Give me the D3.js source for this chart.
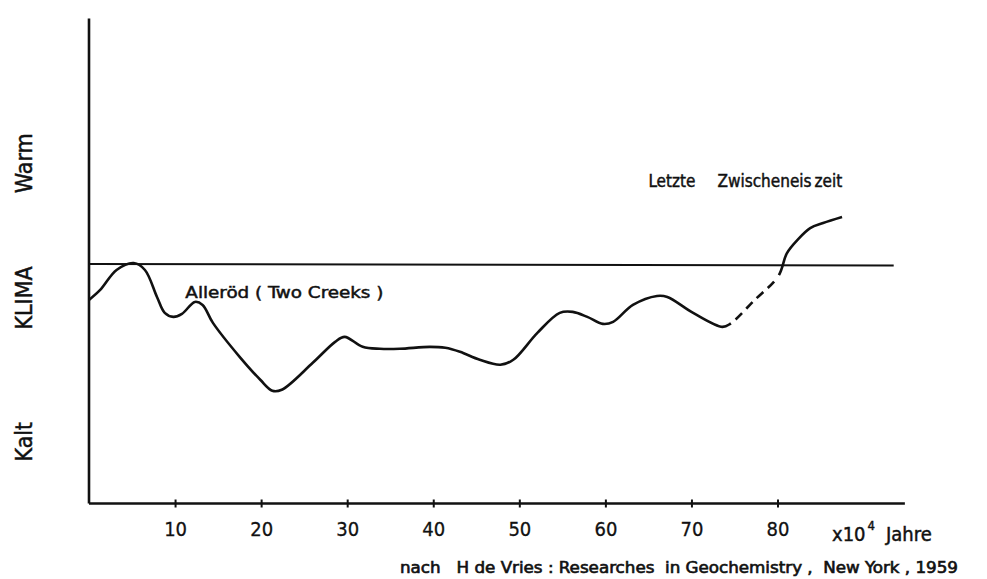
<!DOCTYPE html>
<html>
<head>
<meta charset="utf-8">
<script src="https://cdn.jsdelivr.net/npm/d3@7"></script>
<style>
  body { margin: 0; background: #fff; }
  svg text { font-family: "DejaVu Sans Condensed", "DejaVu Sans", sans-serif; fill: #111; stroke: #111; stroke-width: 0.45; white-space: pre; }
</style>
</head>
<body>
<div id="chart"></div>
<script>
// curve: x in 10^4 Jahre, y = klima relative to the reference line
const curve = [
  [0, -3.6], [1.3, -2.6], [3.2, -0.6], [5.2, 0.1], [6.5, -0.6], [7.9, -3.3],
  [8.8, -4.9], [9.8, -5.3], [10.8, -5.0], [12.3, -3.8], [13.2, -4.1], [14.4, -5.9],
  [17.5, -9.3], [19.9, -11.6], [21.3, -12.7], [22.4, -12.6], [26.0, -9.9],
  [28.6, -7.8], [29.7, -7.3], [31.8, -8.3], [33.8, -8.5], [36.1, -8.5],
  [39.6, -8.3], [41.4, -8.4], [43.1, -8.8], [45.4, -9.6], [47.8, -10.1],
  [49.3, -9.6], [52.1, -6.9], [54.7, -4.9], [56.2, -4.8], [57.9, -5.3],
  [59.7, -6.0], [60.9, -5.8], [63.2, -4.1], [66.0, -3.2], [67.2, -3.3],
  [70.2, -4.9], [73.6, -6.3], [74.5, -6.0], [77.3, -3.65], [80.1, -1.2],
  [81.1, 1.1], [82.3, 2.4], [83.8, 3.6], [85.3, 4.1], [87.5, 4.7]
];
// stretch of the curve that is drawn dashed (uncertain)
const dashedRange = [74.5, 80.1];
const xTicks = [10, 20, 30, 40, 50, 60, 70, 80];
const yLabels = ["Warm", "KLIMA", "Kalt"];
const yLabelValues = [10.1, -3.4, -17.8];

const width = 987, height = 579;
const axisEndX = 94.8, refEndX = 93.5, axisTopY = 24.6;

const svg = d3.select("#chart").append("svg")
  .attr("width", width).attr("height", height);

const x = d3.scaleLinear().domain([0, 80]).range([89, 777.5]);
const y = d3.scaleLinear().domain([-24, 0]).range([503.5, 264]);

// axes
svg.append("line")
  .attr("x1", x(0)).attr("x2", x(0))
  .attr("y1", y(axisTopY)).attr("y2", y(-24))
  .attr("stroke", "#111").attr("stroke-width", 2.6);

const xAxis = svg.append("g")
  .attr("transform", `translate(0,${y(-24)})`)
  .call(d3.axisBottom(x).tickValues(xTicks).tickSize(4).tickPadding(14));
xAxis.select(".domain").remove();
xAxis.selectAll(".tick line")
  .attr("y1", -4).attr("y2", 4)
  .attr("stroke", "#111").attr("stroke-width", 2);
xAxis.selectAll(".tick text")
  .attr("font-size", 20)
  .style("font-family", '"DejaVu Sans Condensed", sans-serif')
  .style("stroke-width", 0.3)
  .attr("fill", "#111");
xAxis.insert("line", ":first-child")
  .attr("x1", x(0)).attr("x2", x(axisEndX))
  .attr("y1", 0).attr("y2", 0)
  .attr("stroke", "#111").attr("stroke-width", 2.6);

// reference line
svg.append("line")
  .attr("x1", x(0)).attr("x2", x(refEndX))
  .attr("y1", y(0)).attr("y2", y(-0.15))
  .attr("stroke", "#111").attr("stroke-width", 2);

// curve: one path, dashed only in the uncertain stretch
const line = d3.line()
  .x(d => x(d[0])).y(d => y(d[1]))
  .curve(d3.curveCatmullRom.alpha(0.5));

const path = svg.append("path").datum(curve)
  .attr("d", line)
  .attr("fill", "none").attr("stroke", "#111")
  .attr("stroke-width", 2.6).attr("stroke-linecap", "butt");

const node = path.node();
const total = node.getTotalLength();
function lengthAtX(px) {
  let lo = 0, hi = total;
  for (let i = 0; i < 40; i++) {
    const mid = (lo + hi) / 2;
    if (node.getPointAtLength(mid).x < px) lo = mid; else hi = mid;
  }
  return lo;
}
const l1 = lengthAtX(x(dashedRange[0]));
const l2 = lengthAtX(x(dashedRange[1]));
const dash = [l1];
let pos = l1;
while (pos + 6 + 9 < l2) { dash.push(6, 9); pos += 15; }
dash.push(l2 - pos, total - l2 + 10, 0);
path.attr("stroke-dasharray", dash.join(","));

// y labels (rotated)
yLabels.forEach((t, i) => {
  svg.append("text")
    .attr("transform", `translate(32,${y(yLabelValues[i])}) rotate(-90)`)
    .attr("text-anchor", "middle")
    .attr("font-size", 23)
    .text(t);
});

// annotations
svg.append("text")
  .attr("x", x(11.2)).attr("y", y(-3.4))
  .attr("font-size", 16)
  .attr("textLength", 198).attr("lengthAdjust", "spacingAndGlyphs")
  .text("Alleröd ( Two Creeks )");

const lz = svg.append("text")
  .attr("x", x(65)).attr("y", y(7.7))
  .attr("font-size", 17);
lz.append("tspan").text("Letzte");
lz.append("tspan").attr("dx", 22).text("Zwischeneis");
lz.append("tspan").attr("dx", 3).text("zeit");

// axis unit
const unit = svg.append("text")
  .attr("x", 832).attr("y", 541)
  .attr("font-size", 20);
unit.append("tspan").text("x10");
unit.append("tspan").attr("font-size", 13).attr("dy", -11).attr("dx", 2).text("4");
unit.append("tspan").attr("dy", 11).attr("dx", 11).text("Jahre");

// source
svg.append("text")
  .attr("x", 400).attr("y", 573)
  .attr("font-size", 16).style("stroke-width", 0.6)
  .attr("textLength", 558).attr("lengthAdjust", "spacingAndGlyphs")
  .text("nach   H de Vries : Researches  in Geochemistry ,  New York , 1959");
</script>
</body>
</html>
